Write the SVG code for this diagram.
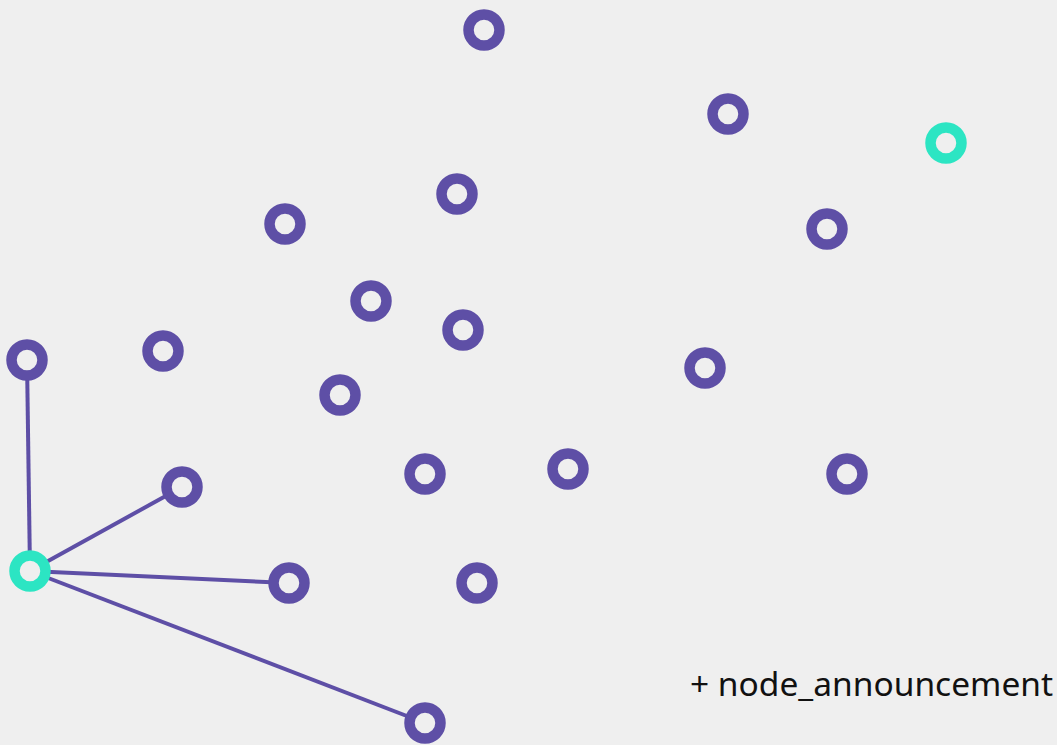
<svg xmlns="http://www.w3.org/2000/svg" width="1057" height="745" viewBox="0 0 1057 745">
<style>
.n{fill:#efefef;stroke:#5e4fa6;stroke-width:10.5}
.t{fill:#efefef;stroke:#2ce5c3;stroke-width:10.5}
.e{stroke:#5e4fa6;stroke-width:4;fill:none}
.lbl{font-family:"Noto Sans",sans-serif;font-size:33.5px;fill:#111}
</style>
<rect width="1057" height="745" fill="#efefef"/>
<g id="edges">
<line class="e" x1="30" y1="571" x2="27" y2="360"/>
<line class="e" x1="30" y1="571" x2="182" y2="487"/>
<line class="e" x1="30" y1="571" x2="289" y2="583"/>
<line class="e" x1="30" y1="571" x2="425" y2="723"/>
</g>
<g id="n1"><circle class="n" cx="484" cy="30" r="15.5"/></g>
<g id="n2"><circle class="n" cx="728" cy="114" r="15.5"/></g>
<g id="n3"><circle class="t" cx="946" cy="143" r="15.5"/></g>
<g id="n4"><circle class="n" cx="457" cy="194" r="15.5"/></g>
<g id="n5"><circle class="n" cx="285" cy="224" r="15.5"/></g>
<g id="n6"><circle class="n" cx="827" cy="229" r="15.5"/></g>
<g id="n7"><circle class="n" cx="371" cy="301" r="15.5"/></g>
<g id="n8"><circle class="n" cx="463" cy="330" r="15.5"/></g>
<g id="n9"><circle class="n" cx="27" cy="360" r="15.5"/></g>
<g id="n10"><circle class="n" cx="163" cy="351" r="15.5"/></g>
<g id="n11"><circle class="n" cx="340" cy="395" r="15.5"/></g>
<g id="n12"><circle class="n" cx="705" cy="368" r="15.5"/></g>
<g id="n13"><circle class="n" cx="425" cy="474" r="15.5"/></g>
<g id="n14"><circle class="n" cx="568" cy="469" r="15.5"/></g>
<g id="n15"><circle class="n" cx="847" cy="474" r="15.5"/></g>
<g id="n16"><circle class="n" cx="182" cy="487" r="15.5"/></g>
<g id="n17"><circle class="t" cx="30" cy="571" r="15.5"/></g>
<g id="n18"><circle class="n" cx="289" cy="583" r="15.5"/></g>
<g id="n19"><circle class="n" cx="477" cy="583" r="15.5"/></g>
<g id="n20"><circle class="n" cx="425" cy="723" r="15.5"/></g>
<g id="label"><text class="lbl" x="690" y="696">+ node_announcement</text></g>
</svg>
